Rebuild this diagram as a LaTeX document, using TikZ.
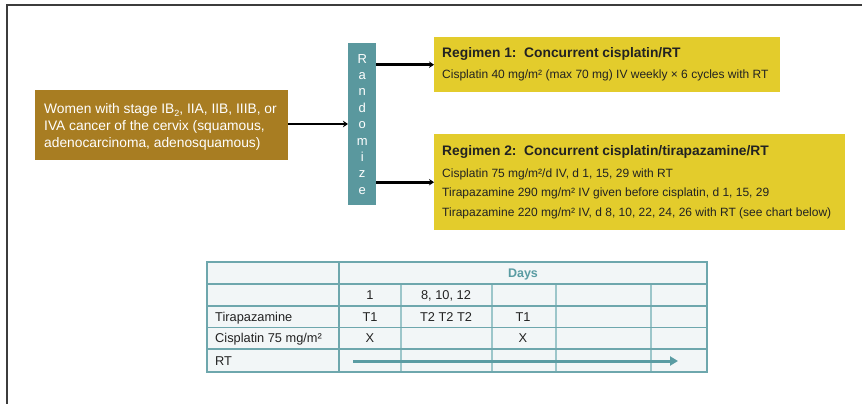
\documentclass[tikz,border=0pt]{standalone}
\usepackage{fontspec}
\setmainfont{Liberation Sans}
\usetikzlibrary{arrows.meta}
\definecolor{brownbox}{HTML}{A87D22}
\definecolor{tealbox}{HTML}{5A989E}
\definecolor{yellowbox}{HTML}{E3CC2C}
\definecolor{tline}{HTML}{6EA7AD}
\definecolor{tvline}{HTML}{9CC6CA}
\definecolor{tfill}{HTML}{F2F6F7}
\definecolor{txt}{HTML}{222222}
\definecolor{framec}{HTML}{3C3C3C}
\definecolor{dayc}{HTML}{5A9CA3}
\tikzset{
  boxshape/.style={draw=none, inner sep=0pt, anchor=north west},
  poptext/.style={anchor=base west, inner sep=0pt, text=white, font=\fontsize{13.8}{16}\selectfont},
  regtitle/.style={anchor=base west, inner sep=0pt, text=txt, font=\fontsize{13.8}{16}\selectfont\bfseries},
  regbody/.style={anchor=base west, inner sep=0pt, text=txt, font=\fontsize{12}{14}\selectfont},
  blackarrow/.style={draw=black, line width=2.6pt, -{Stealth[length=5pt,width=6.5pt]}},
  tabtext/.style={anchor=base, inner sep=0pt, text=txt, font=\fontsize{12.8}{15}\selectfont},
  tablabel/.style={anchor=base west, inner sep=0pt, text=txt, font=\fontsize{12.8}{15}\selectfont},
}
\begin{document}
\begin{tikzpicture}[x=1pt,y=-1pt]
\useasboundingbox (0,0) rectangle (862,404);
% frame
\draw[framec, line width=1.6pt] (7,404) -- (7,5) -- (862,5);

% population box
\node[boxshape, fill=brownbox, minimum width=253pt, minimum height=70pt] (pop) at (35,90) {};
\node[poptext] (pop1) at (44,113) {Women with stage IB\raisebox{-3pt}{\fontsize{9}{10}\selectfont 2}, IIA, IIB, IIIB, or};
\node[poptext] (pop2) at (44,130) {IVA cancer of the cervix (squamous,};
\node[poptext] (pop3) at (44,147) {adenocarcinoma, adenosquamous)};

% randomize
\node[boxshape, fill=tealbox, minimum width=28pt, minimum height=162pt] (rand) at (348,43) {};
\node[inner sep=0pt, align=center, text=white, font=\fontsize{13}{16.4}\selectfont] (randtxt) at (rand.center) {R\\a\\n\\d\\o\\m\\i\\z\\e};

% regimen boxes
\node[boxshape, fill=yellowbox, minimum width=346pt, minimum height=55pt] (reg1) at (434,37) {};
\node[regtitle] (reg1t) at (442,57.5) {Regimen 1:\ \ Concurrent cisplatin/RT};
\node[regbody] (reg1a) at (442,78) {Cisplatin 40 mg/m² (max 70 mg) IV weekly × 6 cycles with RT};

\node[boxshape, fill=yellowbox, minimum width=411pt, minimum height=96pt] (reg2) at (434,134) {};
\node[regtitle] (reg2t) at (442,155.5) {Regimen 2:\ \ Concurrent cisplatin/tirapazamine/RT};
\node[regbody] (reg2a) at (442,177) {Cisplatin 75 mg/m²/d IV, d 1, 15, 29 with RT};
\node[regbody] (reg2b) at (442,196.5) {Tirapazamine 290 mg/m² IV given before cisplatin, d 1, 15, 29};
\node[regbody] (reg2c) at (442,216) {Tirapazamine 220 mg/m² IV, d 8, 10, 22, 24, 26 with RT (see chart below)};

% arrows
\draw[blackarrow] (pop.east |- 0,124) -- (rand.west |- 0,124);
\draw[blackarrow] (rand.east |- reg1.west) -- (reg1.west);
\draw[blackarrow] (rand.east |- reg2.west) -- (reg2.west);

% table
\node[boxshape, fill=tfill, minimum width=500pt, minimum height=110pt] (tab) at (207,262) {};
\foreach \x in {401,492,556,651} {\draw[tvline, line width=1.3pt] (\x,284) -- (\x,372);}
\draw[tline, line width=1.3pt] (339,262) -- (339,372);
\foreach \y in {284,306,327.5,349} {\draw[tline, line width=1.3pt] (207,\y) -- (707,\y);}
\draw[tline, line width=1.5pt] (207,262) rectangle (707,372);

\node[anchor=base, inner sep=0pt, text=dayc, font=\fontsize{12.5}{15}\selectfont\bfseries] (days) at (523,277.5) {Days};
\node[tabtext] (d1) at (370,299.5) {1};
\node[tabtext] (d8) at (446,299.5) {8, 10, 12};
\node[tablabel] (tirl) at (215,321) {Tirapazamine};
\node[tabtext] (t1a) at (370,321) {T1};
\node[tabtext] (t2) at (446,321) {T2 T2 T2};
\node[tabtext] (t1b) at (523,321) {T1};
\node[tablabel] (cisl) at (215,342.5) {Cisplatin 75 mg/m²};
\node[tabtext] (xa) at (370,342.5) {X};
\node[tabtext] (xb) at (523,342.5) {X};
\node[tablabel] (rtl) at (215,365) {RT};
\coordinate (rtstart) at (353,361);
\coordinate (rtend) at (678,361);
\draw[dayc, line width=3pt, -{Triangle[length=8pt,width=9pt]}] (rtstart) -- (rtend);
\end{tikzpicture}
\end{document}
